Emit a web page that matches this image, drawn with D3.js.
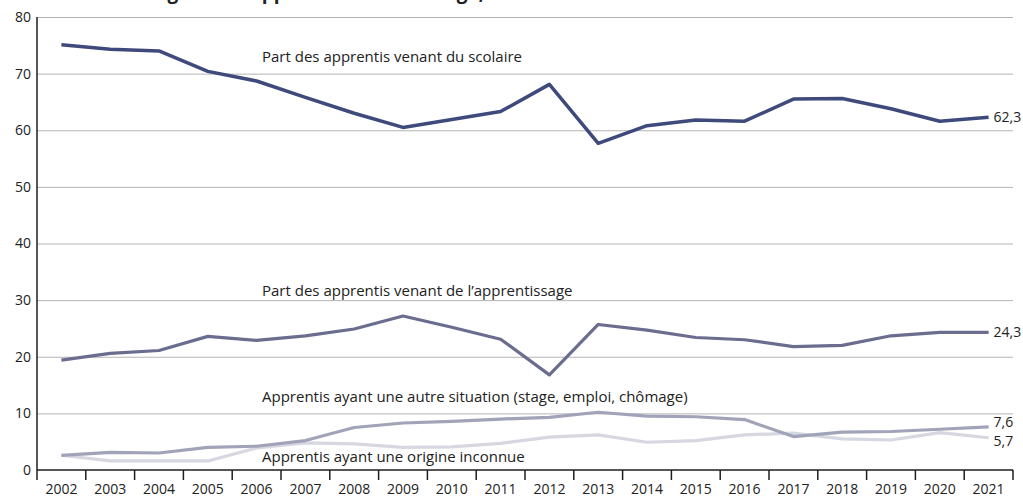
<!DOCTYPE html>
<html>
<head>
<meta charset="utf-8">
<style>
body { margin: 0; background: #fff; }
text { font-family: "Open Sans", sans-serif; fill: #222; }
.grid line { stroke: #b4b4b4; stroke-width: 1px; }
.grid path { display: none; }
path.line { fill: none; stroke-linejoin: round; }
</style>
</head>
<body>
<script src="https://cdn.jsdelivr.net/npm/d3@7"></script>
<script>

// years on the x axis
var years = [2002, 2003, 2004, 2005, 2006, 2007, 2008, 2009, 2010, 2011,
             2012, 2013, 2014, 2015, 2016, 2017, 2018, 2019, 2020, 2021];

var yTicks = [0, 10, 20, 30, 40, 50, 60, 70, 80];

// part des apprentis (%) by origin
var scolaire = [75.1, 74.3, 74.0, 70.4, 68.7, 65.8, 63.0, 60.5, 61.9, 63.3,
                68.1, 57.7, 60.8, 61.8, 61.6, 65.5, 65.6, 63.8, 61.6, 62.3];
var apprentissage = [19.4, 20.6, 21.1, 23.6, 22.9, 23.7, 24.9, 27.2, 25.2, 23.1,
                     16.8, 25.7, 24.7, 23.4, 23.0, 21.8, 22.0, 23.7, 24.3, 24.3];
var autre = [2.6, 3.1, 3.0, 4.0, 4.2, 5.2, 7.5, 8.3, 8.6, 9.0,
             9.3, 10.2, 9.5, 9.4, 8.9, 5.9, 6.7, 6.8, 7.2, 7.6];
var inconnue = [2.6, 1.6, 1.6, 1.6, 3.9, 4.8, 4.6, 4.0, 4.1, 4.7,
                5.8, 6.2, 4.9, 5.2, 6.2, 6.5, 5.5, 5.3, 6.6, 5.7];

var seriesNames = ["Part des apprentis venant du scolaire",
                   "Part des apprentis venant de l\u2019apprentissage",
                   "Apprentis ayant une autre situation (stage, emploi, chômage)",
                   "Apprentis ayant une origine inconnue"];
var endLabels = ["62,3", "24,3", "7,6", "5,7"];

var width = 1023,
    height = 498;

var margin = {left: 37, right: 10, top: 17, bottom: 28};

var svg = d3.select("body").append("svg")
    .attr("width", width)
    .attr("height", height);

var x = d3.scaleBand()
    .domain(years)
    .range([margin.left, width - margin.right]);

var y = d3.scaleLinear()
    .domain([0, 80])
    .range([height - margin.bottom, margin.top]);

// title, mostly cut off at the top of the picture (as in the source)
svg.append("text")
    .attr("x", 138)
    .attr("y", -1)
    .style("font-size", "19px")
    .style("font-weight", "bold")
    .text("Origine des apprentis selon leur âge, en %");

// gridlines
svg.append("g")
    .attr("class", "grid")
    .attr("transform", "translate(" + margin.left + ",0)")
    .call(d3.axisRight(y).tickValues(yTicks.slice(1))
        .tickSize(width - margin.right - margin.left).tickFormat(""));

// y labels
svg.append("g")
    .selectAll("text")
    .data(yTicks)
    .enter()
    .append("text")
    .attr("x", 31)
    .attr("y", function(d) { return y(d); })
    .attr("dy", "0.35em")
    .attr("text-anchor", "end")
    .style("font-size", "14px")
    .text(function(d) { return d; });

// y axis line
svg.append("line")
    .attr("x1", margin.left).attr("x2", margin.left)
    .attr("y1", y(80)).attr("y2", y(0))
    .style("stroke", "#1e1e1e")
    .style("stroke-width", "1.5px");

// x axis with ticks between the years
var xAxis = svg.append("g")
    .attr("transform", "translate(0," + y(0) + ")");

xAxis.append("line")
    .attr("x1", margin.left).attr("x2", width - margin.right)
    .style("stroke", "#1e1e1e")
    .style("stroke-width", "1.5px");

xAxis.selectAll("line.tick")
    .data(years.concat(["end"]))
    .enter()
    .append("line")
    .attr("class", "tick")
    .attr("x1", function(d, i) { return i < years.length ? x(d) : x(years[years.length - 1]) + x.bandwidth(); })
    .attr("x2", function(d, i) { return i < years.length ? x(d) : x(years[years.length - 1]) + x.bandwidth(); })
    .attr("y1", 0)
    .attr("y2", 10)
    .style("stroke", "#1e1e1e")
    .style("stroke-width", "1.5px");

xAxis.selectAll("text")
    .data(years)
    .enter()
    .append("text")
    .attr("x", function(d) { return x(d) + x.bandwidth() / 2; })
    .attr("y", 24)
    .attr("text-anchor", "middle")
    .style("font-size", "14px")
    .text(function(d) { return d; });

// lines
var series = [scolaire, apprentissage, autre, inconnue];
var colors = ["#3e4a7c", "#6a6d8e", "#a1a3b8", "#d6d7e0"];
var widths = [3.5, 3.2, 3.2, 3.2];

var line = d3.line()
    .x(function(d, i) { return x(years[i]) + x.bandwidth() / 2; })
    .y(function(d) { return y(d); });

// draw the light lines first so the dark ones sit on top
[3, 2, 1, 0].forEach(function(k) {
    svg.append("path")
        .attr("class", "line")
        .attr("d", line(series[k]))
        .style("stroke", colors[k])
        .style("stroke-width", widths[k] + "px");
});

// series names
var nameY = [57, 291, 397, 457];
svg.selectAll("text.name")
    .data(seriesNames)
    .enter()
    .append("text")
    .attr("class", "name")
    .attr("x", 262)
    .attr("y", function(d, i) { return nameY[i]; })
    .attr("dy", "0.35em")
    .style("font-size", "15px")
    .text(function(d) { return d; });

// end values
var endX = x(2021) + x.bandwidth() / 2 + 5;
var endY = [y(62.3), y(24.3), y(7.6) - 5, y(5.7) + 3];
svg.selectAll("text.end")
    .data(endLabels)
    .enter()
    .append("text")
    .attr("class", "end")
    .attr("x", endX)
    .attr("y", function(d, i) { return endY[i]; })
    .attr("dy", "0.35em")
    .style("font-size", "14px")
    .text(function(d) { return d; });

</script>
</body>
</html>
